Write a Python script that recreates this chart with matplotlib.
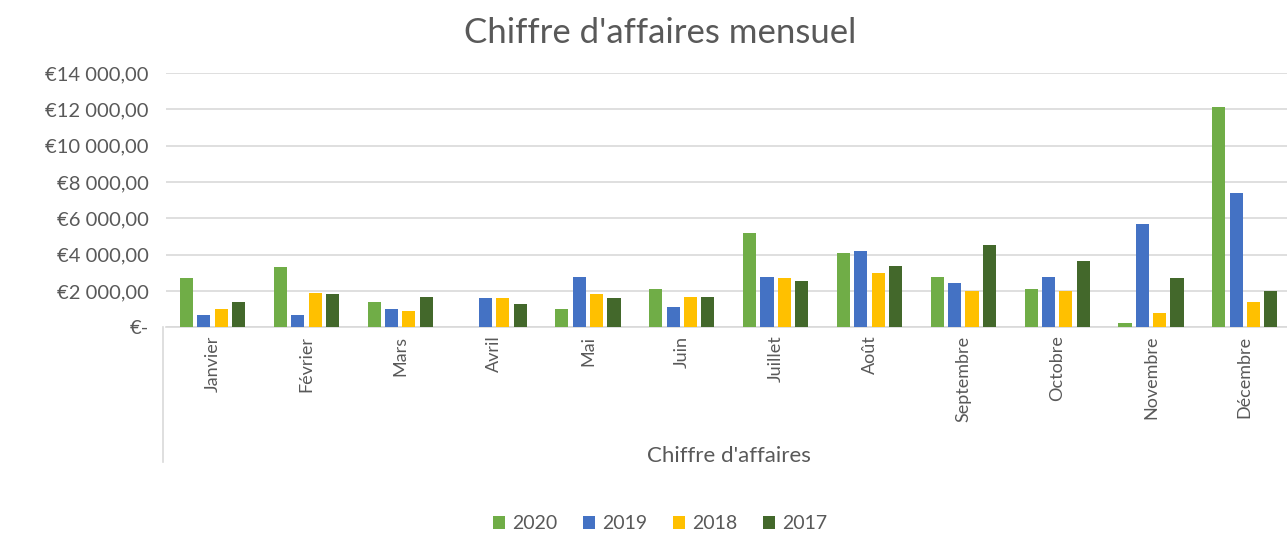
import numpy as np
import matplotlib.pyplot as plt
from matplotlib.ticker import FuncFormatter, MultipleLocator
from matplotlib.lines import Line2D

plt.rcParams['font.family'] = ['Lato', 'DejaVu Sans']

mois = ['Janvier', 'Février', 'Mars', 'Avril', 'Mai', 'Juin', 'Juillet',
        'Août', 'Septembre', 'Octobre', 'Novembre', 'Décembre']
annees = ['2020', '2019', '2018', '2017']
ca_2020 = [2700, 3300, 1380, 0, 990, 2090, 5180, 4080, 2750, 2090, 220, 12120]
ca_2019 = [660, 660, 990, 1600, 2750, 1100, 2750, 4190, 2420, 2750, 5670, 7380]
ca_2018 = [990, 1870, 880, 1600, 1820, 1650, 2700, 2970, 1980, 1980, 770, 1380]
ca_2017 = [1380, 1820, 1650, 1270, 1600, 1650, 2530, 3360, 4520, 3640, 2700, 1980]
series = [ca_2020, ca_2019, ca_2018, ca_2017]
couleurs = ['#70AD47', '#4472C4', '#FFC000', '#43682B']

gris = '#595959'

fig = plt.figure(figsize=(12.87, 5.4), dpi=100)
# la zone de tracé déborde un peu à droite, comme dans l'original rogné
ax = fig.add_axes([0.1287, 0.394, 0.875, 0.471])

x = np.arange(len(mois))
pas = 0.185
larg = 0.14
for i, (vals, c, lab) in enumerate(zip(series, couleurs, annees)):
    ax.bar(x + (i - 1.5) * pas, vals, width=larg, color=c, label=lab, zorder=3)

ax.set_xlim(-0.5, len(mois) - 0.5)
ax.set_ylim(0, 14000)
ax.yaxis.set_major_locator(MultipleLocator(2000))


def euro(v, pos):
    if v == 0:
        return '€-'
    s = f'{v:,.2f}'.replace(',', ' ').replace('.', ',')
    return '€' + s


ax.yaxis.set_major_formatter(FuncFormatter(euro))
ax.grid(axis='y', color='#D9D9D9', linewidth=1.2, zorder=0)
for s in ['top', 'right', 'left']:
    ax.spines[s].set_visible(False)
ax.spines['bottom'].set_color('#D9D9D9')
ax.spines['bottom'].set_linewidth(1.2)
ax.tick_params(axis='y', length=0, labelsize=14.5, colors=gris, pad=12)
ax.tick_params(axis='x', length=0, labelsize=13, colors=gris, pad=6)
ax.set_xticks(x)
ax.set_xticklabels(mois, rotation=90)

fig.text(0.513, 0.939, "Chiffre d'affaires mensuel", ha='center', va='center',
         fontsize=25, color=gris)

# étiquette de groupe de l'axe des catégories
fig.text(0.566, 0.155, "Chiffre d'affaires", ha='center', va='center',
         fontsize=16, color=gris)
fig.add_artist(Line2D([0.127, 0.127], [0.394, 0.145], color='#D9D9D9',
                      linewidth=1.2))

fig.legend(loc='center', bbox_to_anchor=(0.513, 0.03), ncol=4, frameon=False,
           fontsize=14, labelcolor=gris, handlelength=0.6, handleheight=0.6,
           handletextpad=0.4, columnspacing=1.3)

fig.savefig('out.png', dpi=100, facecolor='white')
